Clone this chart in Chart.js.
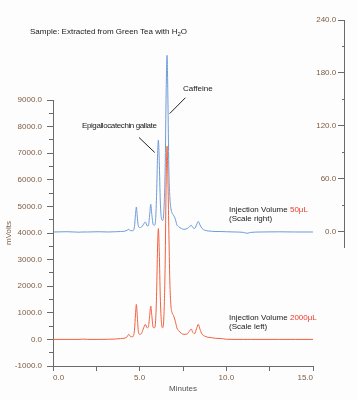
<!DOCTYPE html>
<html>
<head>
<meta charset="utf-8">
<script src="https://cdn.jsdelivr.net/npm/chart.js@4/dist/chart.umd.min.js"></script>
<style>
  html, body { margin: 0; padding: 0; background: #fdfdfd; }
  #wrap { position: relative; width: 357px; height: 400px; overflow: hidden; }
  #wrap canvas { position: absolute; left: 0; top: 0; }
  .note { position: absolute; font-family: 'Liberation Sans', Arial, sans-serif; font-size: 8px; line-height: 8.5px; color: #1a1a1a; white-space: nowrap; }
  .note sub { font-size: 6px; line-height: 0; vertical-align: -2px; }
  .red { color: #ee3a2a; }
</style>
</head>
<body>
<div id="wrap">
  <canvas id="blueChart" width="357" height="400"></canvas>
  <canvas id="redChart" width="357" height="400"></canvas>
  <div class="note" style="left:30px; top:28px;">Sample: Extracted from Green Tea with H<sub>2</sub>O</div>
  <div class="note" style="left:183px; top:85px;">Caffeine</div>
  <div class="note" style="left:82px; top:122px; letter-spacing:-0.4px;">Epigallocatechin gallate</div>
  <div class="note" style="left:229px; top:206px;">Injection Volume <span class="red">50μL</span><br>(Scale right)</div>
  <div class="note" style="left:229px; top:314px;">Injection Volume <span class="red">2000μL</span><br>(Scale left)</div>
</div>
<script>
// Retention time (minutes)
const times = [
  0, 0.8, 1.5, 1.73, 2.0, 2.6, 3.2, 3.6, 3.9, 4.15,
  4.28, 4.37, 4.47, 4.6, 4.7, 4.76, 4.81, 4.86, 4.92, 5.0,
  5.1, 5.2, 5.33, 5.43, 5.5, 5.57, 5.64, 5.7, 5.78, 5.85,
  5.92, 5.98, 6.03, 6.08, 6.13, 6.19, 6.26, 6.33, 6.4, 6.47,
  6.53, 6.58, 6.63, 6.68, 6.74, 6.8, 6.87, 6.95, 7.05, 7.15,
  7.25, 7.4, 7.55, 7.75, 7.88, 7.97, 8.07, 8.17, 8.28, 8.38,
  8.48, 8.6, 8.75, 8.95, 9.15, 9.4, 9.7, 10.0, 10.5, 11.0,
  11.2, 11.4, 12.0, 13.0, 14.0, 15.0
];
// Injection volume 50 µL (right scale, mV)
const signal50uL = [
  0, 0.3, -0.2, 0, 0, 0.3, 0, 0.3, 0.5, 1,
  2, 3, 1.5, 1.5, 6, 20, 28.3, 18, 7, 5,
  5.5, 8, 11.3, 7, 7, 18, 31.4, 20, 8.5, 7.6,
  14, 45, 85, 104, 80, 35, 15, 13, 25, 70,
  160, 200, 150, 75, 40, 27, 21.5, 19, 15, 8,
  6, 4, 3, 4, 6, 7.6, 5, 4, 8, 12,
  8, 4, 2, 1.2, 0.8, 0.5, 0.5, 0.3, 0, -0.5,
  -1.5, -0.5, 0, 0.2, 0, 0
];
// Injection volume 2000 µL (left scale, mV)
const signal2000uL = [
  0, 0, 0, 12, 0, 0, 5, 15, 30, 50,
  100, 188, 110, 100, 350, 950, 1316, 900, 330, 190,
  220, 380, 564, 436, 460, 850, 1252, 900, 450, 436,
  700, 1800, 3400, 4165, 3300, 1600, 600, 436, 900, 2800,
  6000, 7267, 6000, 4200, 2200, 1300, 1000, 900, 700, 430,
  330, 230, 190, 210, 320, 390, 260, 215, 400, 564,
  380, 200, 124, 80, 64, 40, 35, 5, 0, 0,
  0, 0, 0, 0, 0, 0
];
// Labelled tick values
const xLabelValues = [0, 5, 10, 15];
const leftLabelValues = [-1000, 0, 1000, 2000, 3000, 4000, 5000, 6000, 7000, 8000, 9000];
const rightLabelValues = [0, 60, 120, 180, 240];

const BLUE = '#6e9bd5';
const RED = '#f0603f';
const AXIS = '#6a6a6a';
const TICKTXT = '#7d5c44';
const FONT = "'Liberation Sans', Arial, sans-serif";

// Leader lines (anchored in time / right-scale units)
const leaders = [
  { x1: 7.64, y1: 152, x2: 6.73, y2: 134 },
  { x1: 4.96, y1: 107, x2: 5.87, y2: 90 }
];

const leaderPlugin = {
  id: 'leaders',
  afterDatasetsDraw(chart) {
    const { ctx } = chart;
    const xs = chart.scales.x, ys = chart.scales.y;
    ctx.save();
    ctx.strokeStyle = '#222';
    ctx.lineWidth = 1;
    leaders.forEach(l => {
      ctx.beginPath();
      ctx.moveTo(xs.getPixelForValue(l.x1), ys.getPixelForValue(l.y1));
      ctx.lineTo(xs.getPixelForValue(l.x2), ys.getPixelForValue(l.y2));
      ctx.stroke();
    });
    ctx.restore();
  }
};

// ---- 50 µL trace with the right axis ----
new Chart(document.getElementById('blueChart'), {
  type: 'line',
  data: {
    datasets: [{
      data: times.map((t, i) => ({ x: t, y: signal50uL[i] })),
      borderColor: BLUE, borderWidth: 1, pointRadius: 0,
      cubicInterpolationMode: 'monotone', fill: false
    }]
  },
  options: {
    responsive: false, animation: false, devicePixelRatio: 1,
    layout: { padding: { top: 20, bottom: 153, left: 53, right: 44 } },
    plugins: { legend: { display: false }, tooltip: { enabled: false } },
    scales: {
      x: { type: 'linear', min: 0, max: 15, display: false },
      y: {
        axis: 'y', type: 'linear', position: { x: 16.8 }, min: -17, max: 240,
        border: { color: AXIS, width: 1 },
        grid: {
          drawOnChartArea: false, tickLength: 6, tickColor: AXIS,
          tickBorderDash: c => (c.tick && rightLabelValues.includes(c.tick.value)) ? [] : [2, 10]
        },
        ticks: {
          stepSize: 30, includeBounds: false, autoSkip: false, padding: 2,
          color: TICKTXT, font: { family: FONT, size: 8 },
          callback: v => rightLabelValues.includes(v) ? v.toFixed(1) + '\u2002\u2002' : ''
        }
      }
    }
  },
  plugins: [leaderPlugin]
});

// ---- 2000 µL trace with the left axis and time axis ----
new Chart(document.getElementById('redChart'), {
  type: 'line',
  data: {
    datasets: [{
      data: times.map((t, i) => ({ x: t, y: signal2000uL[i] })),
      borderColor: RED, borderWidth: 1, pointRadius: 0,
      cubicInterpolationMode: 'monotone', fill: false
    }]
  },
  options: {
    responsive: false, animation: false, devicePixelRatio: 1,
    layout: { padding: { top: 100, right: 44, left: 0, bottom: 0 } },
    plugins: { legend: { display: false }, tooltip: { enabled: false } },
    scales: {
      x: {
        type: 'linear', min: 0, max: 15,
        afterFit: s => { s.height = 34; },
        border: { color: AXIS, width: 1 },
        grid: { drawOnChartArea: false, tickLength: 5, tickColor: AXIS },
        ticks: {
          stepSize: 2.5, autoSkip: false, maxRotation: 0, align: 'inner', padding: 2,
          color: TICKTXT, font: { family: FONT, size: 8 },
          callback: v => xLabelValues.includes(v) ? v.toFixed(1) : ''
        },
        title: { display: true, text: 'Minutes', color: '#555', font: { family: FONT, size: 8 }, padding: { top: 0, bottom: 6 } }
      },
      y: {
        type: 'linear', min: -1000, max: 9000,
        afterFit: s => { s.width = 53; },
        border: { color: AXIS, width: 1 },
        grid: {
          drawOnChartArea: false, tickLength: 6, tickColor: AXIS,
          tickBorderDash: c => (c.tick && leftLabelValues.includes(c.tick.value)) ? [] : [4, 2],
          tickBorderDashOffset: c => (c.tick && leftLabelValues.includes(c.tick.value)) ? 0 : 4
        },
        ticks: {
          stepSize: 500, autoSkip: false, padding: 5,
          color: TICKTXT, font: { family: FONT, size: 8 },
          callback: v => leftLabelValues.includes(v) ? v.toFixed(1) : ''
        },
        title: { display: true, text: 'mVolts', color: '#7d5c44', font: { family: FONT, size: 8 }, padding: { top: 4, bottom: 0 } }
      }
    }
  }
});
</script>
</body>
</html>
